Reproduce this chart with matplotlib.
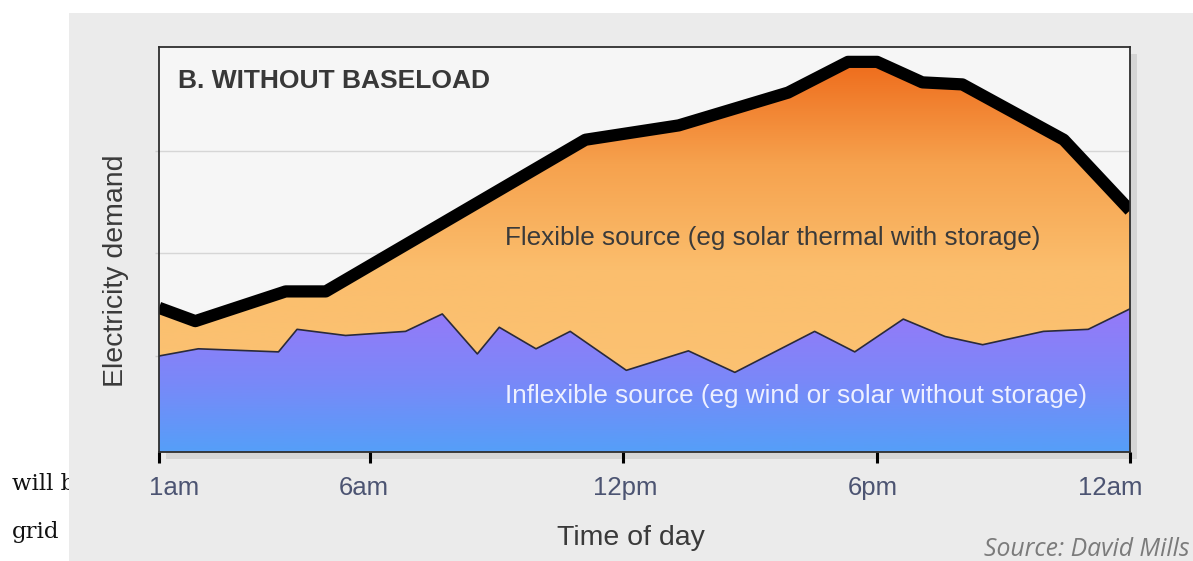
import numpy as np
import matplotlib
matplotlib.use("Agg")
import matplotlib.pyplot as plt
from matplotlib.colors import LinearSegmentedColormap
from matplotlib.patches import Rectangle, Polygon

# hour of day (1 = 1am, 24 = 12am) and demand in grid units
demand_hours = [1.0, 1.86, 4.0, 4.95, 11.1, 13.31, 15.9, 17.32, 18.01, 19.08, 20.03, 22.43, 24.0]
demand_values = [1.47, 1.34, 1.63, 1.63, 3.11, 3.25, 3.57, 3.87, 3.87, 3.67, 3.65, 3.11, 2.42]

inflex_hours = [1.0, 1.93, 3.83, 4.27, 5.42, 6.84, 7.71, 8.54, 9.06, 9.93, 10.74, 12.07,
                13.54, 14.64, 16.53, 17.48, 18.63, 19.62, 20.51, 21.95, 23.01, 24.0]
inflex_values = [1.0, 1.07, 1.04, 1.26, 1.20, 1.24, 1.41, 1.02, 1.28, 1.07, 1.24, 0.86,
                 1.05, 0.84, 1.24, 1.04, 1.36, 1.19, 1.11, 1.24, 1.26, 1.46]

tick_hours = [1, 6, 12, 18, 24]
tick_labels = ["1am", "6am", "12pm", "6pm", "12am"]
# the labels in the original sit a little off their tick marks
label_hours = [1.36, 5.85, 12.05, 17.9, 23.54]

W, H = 1193, 561
fig = plt.figure(figsize=(W / 100, H / 100), dpi=100)
fig.patch.set_facecolor("white")

def fx(px):
    return px / W

def fy(py):
    return 1 - py / H

# bits of article text cut off by the panel
fig.text(fx(12), fy(484), "will be", family="DejaVu Serif", fontsize=16.5, va="center",
         color="#111111", zorder=-3)
fig.text(fx(12), fy(532), "grid", family="DejaVu Serif", fontsize=16.5, va="center",
         color="#111111", zorder=-3)

fig.patches.append(Rectangle((fx(69), 0), fx(W - 69), fy(13), transform=fig.transFigure,
                             facecolor="#ebebeb", edgecolor="none", zorder=-2))

left, right, top, bottom = 159, 1130, 47, 452
# drop shadow behind the plot box
fig.patches.append(Rectangle((fx(left + 7), fy(bottom + 7)), fx(right - left), fy(top) - fy(bottom),
                             transform=fig.transFigure, facecolor="#d5d5d5",
                             edgecolor="none", zorder=-1))

ax = fig.add_axes([fx(left), fy(bottom), fx(right - left), fy(top) - fy(bottom)])
ax.set_facecolor("#f6f6f6")

x_d = np.array(demand_hours)
y_d = np.array(demand_values)
x_i = np.array(inflex_hours)
y_i = np.array(inflex_values)

# orange area between inflexible line and demand line (gradient)
grid_x = np.union1d(x_d, x_i)
top_y = np.interp(grid_x, x_d, y_d)
low_y = np.interp(grid_x, x_i, y_i)
orange_poly = np.vstack([np.column_stack([grid_x, top_y]),
                         np.column_stack([grid_x[::-1], low_y[::-1]])])
blue_poly = np.vstack([np.column_stack([x_i, y_i]),
                       [[24, 0.0], [1, 0.0]]])

orange_cmap = LinearSegmentedColormap.from_list("o", ["#fbc272", "#fbbe6d", "#f6a24e", "#ee6a1a"])
blue_cmap = LinearSegmentedColormap.from_list("b", ["#559ff8", "#7a88f8", "#9679f9"])

grad = np.linspace(0, 1, 256).reshape(-1, 1)
im_o = ax.imshow(grad, cmap=orange_cmap, origin="lower", aspect="auto",
                 extent=[1, 24, 0.8, 3.9], zorder=1)
im_o.set_clip_path(Polygon(orange_poly, closed=True, transform=ax.transData))
im_b = ax.imshow(grad, cmap=blue_cmap, origin="lower", aspect="auto",
                 extent=[1, 24, 0.063, 1.45], zorder=1)
im_b.set_clip_path(Polygon(blue_poly, closed=True, transform=ax.transData))
ax.set_xlim(1, 24)
ax.set_ylim(0.063, 4.015)

ax.plot(x_i, y_i, color="#2a2a3a", lw=1.2, zorder=3)
ax.plot(x_d, y_d, color="black", lw=8.8, solid_joinstyle="round", solid_capstyle="butt", zorder=4)

ax.set_yticks([1, 2, 3])
ax.set_yticklabels([])
ax.yaxis.grid(True, color="#d6d6d6", lw=1.0, zorder=0)
ax.set_axisbelow(True)
ax.tick_params(axis="y", length=3, color="#cfcfcf", width=1)

# tick marks as minor ticks, labels on unmarked major ticks
ax.set_xticks(tick_hours, minor=True)
ax.set_xticks(label_hours)
ax.set_xticklabels(tick_labels)
ax.tick_params(axis="x", which="minor", direction="out", length=8, width=2.2, color="black")
ax.tick_params(axis="x", which="major", length=0, pad=17,
               labelsize=18.5, labelcolor="#4c5472")
for lab in ax.get_xticklabels():
    lab.set_family("Liberation Sans")

for s in ax.spines.values():
    s.set_color("#2e2e2e")
    s.set_linewidth(1.3)
    s.set_zorder(5)

fig.text(fx(178), fy(81), "B. WITHOUT BASELOAD", family="Liberation Sans", weight="bold",
         fontsize=19, color="#383838", va="center", ha="left")
fig.text(fx(505), fy(238), "Flexible source (eg solar thermal with storage)",
         family="Liberation Sans", fontsize=18.8, color="#3a3a3a", va="center", ha="left")
fig.text(fx(505), fy(396), "Inflexible source (eg wind or solar without storage)",
         family="Liberation Sans", fontsize=18.8, color="#eef0ff", va="center", ha="left")
fig.text(fx(116), fy(271), "Electricity demand", family="Liberation Sans", fontsize=20.5,
         color="#3a3a3a", rotation=90, va="center", ha="center")
fig.text(fx(631), fy(538), "Time of day", family="Liberation Sans", fontsize=20.5,
         color="#3a3a3a", va="center", ha="center")
fig.text(fx(1190), fy(549), "Source: David Mills", family="Open Sans", style="italic",
         fontsize=17.8, color="#7b7b7b", va="center", ha="right")

fig.savefig("out.png", dpi=100)
